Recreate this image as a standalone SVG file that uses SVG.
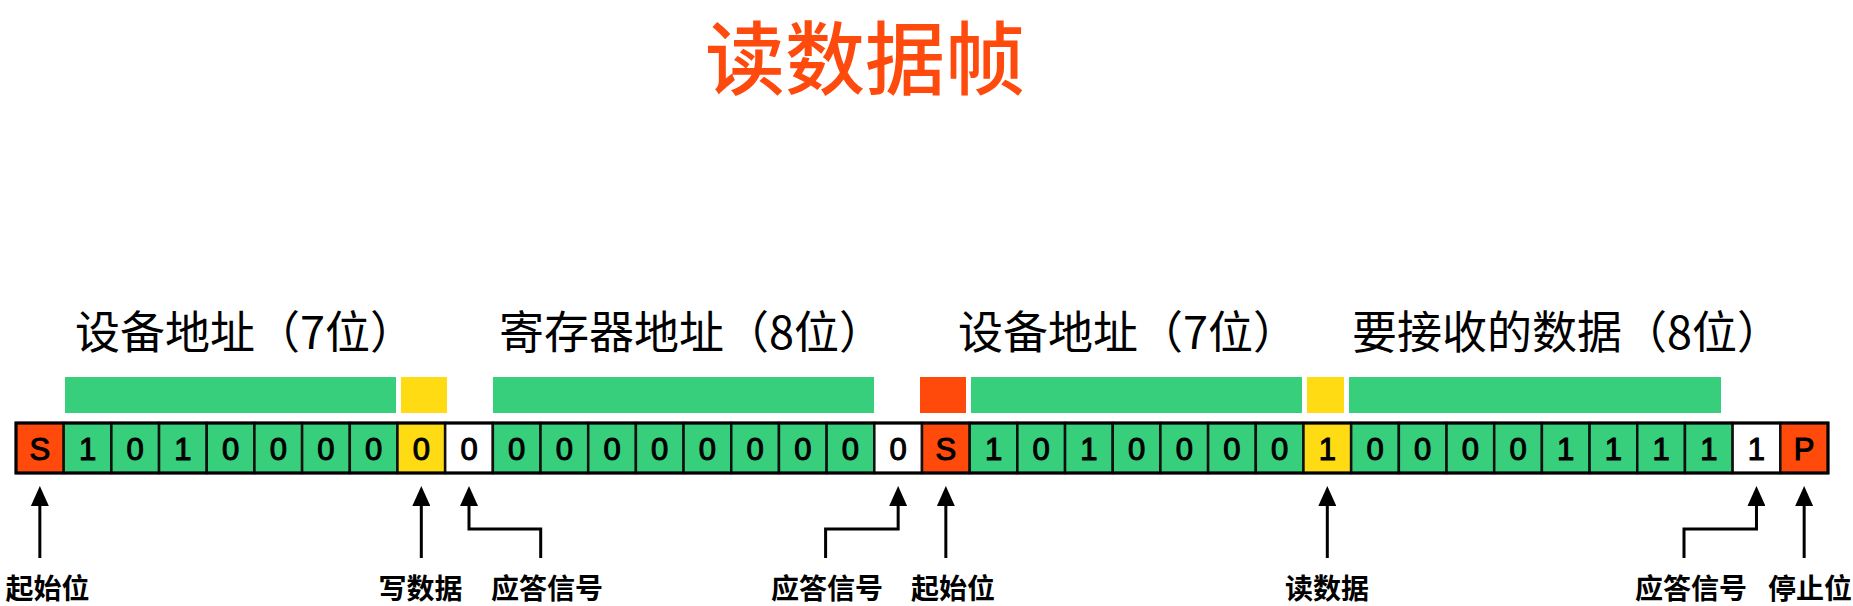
<svg xmlns="http://www.w3.org/2000/svg" width="1853" height="606" viewBox="0 0 1853 606">
<defs>
<marker id="ah" viewBox="0 0 20 18" refX="10" refY="9" markerWidth="20" markerHeight="18" markerUnits="userSpaceOnUse" orient="auto">
<path d="M0,0 L20,9 L0,18 Z" fill="#000"/>
</marker>
<style>
.t{font-family:"Noto Sans CJK SC","Liberation Sans",sans-serif;}
.title{font-size:80px;fill:#ff4a0e;font-weight:500;text-anchor:middle;}
.hd{font-size:45px;fill:#000;}
.lb{font-size:28px;font-weight:bold;fill:#000;text-anchor:middle;}
.c{stroke:#111;stroke-width:2.5;}
.g{fill:#37ce7c;}
.r{fill:#ff4a0b;}
.y{fill:#fedb12;}
.w{fill:#ffffff;}
.d{font-family:"Liberation Sans",Arial,sans-serif;font-size:31px;fill:#000;stroke:#000;stroke-width:1.1;text-anchor:middle;}
.ln{fill:none;stroke:#000;stroke-width:3;}
</style>
</defs>
<rect x="0" y="0" width="1853" height="606" fill="#ffffff"/>
<text class="t title" x="865" y="88">读数据帧</text>
<g id="labels">
<text class="t hd" x="75" y="349">设备地址（7位）</text>
<text class="t hd" x="499" y="349">寄存器地址（8位）</text>
<text class="t hd" x="958" y="349">设备地址（7位）</text>
<text class="t hd" x="1352" y="349">要接收的数据（8位）</text>
</g>
<g id="bars">
<rect class="g" x="65" y="377" width="331" height="36"/>
<rect class="y" x="401" y="377" width="46" height="36"/>
<rect class="g" x="493" y="377" width="381" height="36"/>
<rect class="r" x="920" y="377" width="46" height="36"/>
<rect class="g" x="971" y="377" width="331" height="36"/>
<rect class="y" x="1307" y="377" width="37" height="36"/>
<rect class="g" x="1349" y="377" width="372" height="36"/>
</g>
<g id="cells">
<g id="c0"><rect class="c r" x="16" y="423" width="47.68" height="50"/><text class="d" x="39.84" y="459.5">S</text></g>
<g id="c1"><rect class="c g" x="63.68" y="423" width="47.68" height="50"/><text class="d" x="87.52" y="459.5">1</text></g>
<g id="c2"><rect class="c g" x="111.37" y="423" width="47.68" height="50"/><text class="d" x="135.21" y="459.5">0</text></g>
<g id="c3"><rect class="c g" x="159.05" y="423" width="47.68" height="50"/><text class="d" x="182.89" y="459.5">1</text></g>
<g id="c4"><rect class="c g" x="206.74" y="423" width="47.68" height="50"/><text class="d" x="230.58" y="459.5">0</text></g>
<g id="c5"><rect class="c g" x="254.42" y="423" width="47.68" height="50"/><text class="d" x="278.26" y="459.5">0</text></g>
<g id="c6"><rect class="c g" x="302.11" y="423" width="47.68" height="50"/><text class="d" x="325.95" y="459.5">0</text></g>
<g id="c7"><rect class="c g" x="349.79" y="423" width="47.68" height="50"/><text class="d" x="373.63" y="459.5">0</text></g>
<g id="c8"><rect class="c y" x="397.47" y="423" width="47.68" height="50"/><text class="d" x="421.31" y="459.5">0</text></g>
<g id="c9"><rect class="c w" x="445.16" y="423" width="47.68" height="50"/><text class="d" x="469.00" y="459.5">0</text></g>
<g id="c10"><rect class="c g" x="492.84" y="423" width="47.68" height="50"/><text class="d" x="516.68" y="459.5">0</text></g>
<g id="c11"><rect class="c g" x="540.53" y="423" width="47.68" height="50"/><text class="d" x="564.37" y="459.5">0</text></g>
<g id="c12"><rect class="c g" x="588.21" y="423" width="47.68" height="50"/><text class="d" x="612.05" y="459.5">0</text></g>
<g id="c13"><rect class="c g" x="635.89" y="423" width="47.68" height="50"/><text class="d" x="659.73" y="459.5">0</text></g>
<g id="c14"><rect class="c g" x="683.58" y="423" width="47.68" height="50"/><text class="d" x="707.42" y="459.5">0</text></g>
<g id="c15"><rect class="c g" x="731.26" y="423" width="47.68" height="50"/><text class="d" x="755.10" y="459.5">0</text></g>
<g id="c16"><rect class="c g" x="778.95" y="423" width="47.68" height="50"/><text class="d" x="802.79" y="459.5">0</text></g>
<g id="c17"><rect class="c g" x="826.63" y="423" width="47.68" height="50"/><text class="d" x="850.47" y="459.5">0</text></g>
<g id="c18"><rect class="c w" x="874.32" y="423" width="47.68" height="50"/><text class="d" x="898.16" y="459.5">0</text></g>
<g id="c19"><rect class="c r" x="922.00" y="423" width="47.68" height="50"/><text class="d" x="945.84" y="459.5">S</text></g>
<g id="c20"><rect class="c g" x="969.68" y="423" width="47.68" height="50"/><text class="d" x="993.52" y="459.5">1</text></g>
<g id="c21"><rect class="c g" x="1017.37" y="423" width="47.68" height="50"/><text class="d" x="1041.21" y="459.5">0</text></g>
<g id="c22"><rect class="c g" x="1065.05" y="423" width="47.68" height="50"/><text class="d" x="1088.89" y="459.5">1</text></g>
<g id="c23"><rect class="c g" x="1112.74" y="423" width="47.68" height="50"/><text class="d" x="1136.58" y="459.5">0</text></g>
<g id="c24"><rect class="c g" x="1160.42" y="423" width="47.68" height="50"/><text class="d" x="1184.26" y="459.5">0</text></g>
<g id="c25"><rect class="c g" x="1208.11" y="423" width="47.68" height="50"/><text class="d" x="1231.95" y="459.5">0</text></g>
<g id="c26"><rect class="c g" x="1255.79" y="423" width="47.68" height="50"/><text class="d" x="1279.63" y="459.5">0</text></g>
<g id="c27"><rect class="c y" x="1303.47" y="423" width="47.68" height="50"/><text class="d" x="1327.31" y="459.5">1</text></g>
<g id="c28"><rect class="c g" x="1351.16" y="423" width="47.68" height="50"/><text class="d" x="1375.00" y="459.5">0</text></g>
<g id="c29"><rect class="c g" x="1398.84" y="423" width="47.68" height="50"/><text class="d" x="1422.68" y="459.5">0</text></g>
<g id="c30"><rect class="c g" x="1446.53" y="423" width="47.68" height="50"/><text class="d" x="1470.37" y="459.5">0</text></g>
<g id="c31"><rect class="c g" x="1494.21" y="423" width="47.68" height="50"/><text class="d" x="1518.05" y="459.5">0</text></g>
<g id="c32"><rect class="c g" x="1541.89" y="423" width="47.68" height="50"/><text class="d" x="1565.73" y="459.5">1</text></g>
<g id="c33"><rect class="c g" x="1589.58" y="423" width="47.68" height="50"/><text class="d" x="1613.42" y="459.5">1</text></g>
<g id="c34"><rect class="c g" x="1637.26" y="423" width="47.68" height="50"/><text class="d" x="1661.10" y="459.5">1</text></g>
<g id="c35"><rect class="c g" x="1684.95" y="423" width="47.68" height="50"/><text class="d" x="1708.79" y="459.5">1</text></g>
<g id="c36"><rect class="c w" x="1732.63" y="423" width="47.68" height="50"/><text class="d" x="1756.47" y="459.5">1</text></g>
<g id="c37"><rect class="c r" x="1780.32" y="423" width="47.68" height="50"/><text class="d" x="1804.16" y="459.5">P</text></g>
<rect x="16" y="423" width="1812" height="50" fill="none" stroke="#000" stroke-width="3"/>
</g>
<g id="connectors">
<path class="ln" d="M39.84,558 V496" marker-end="url(#ah)"/>
<path class="ln" d="M421.31,558 V496" marker-end="url(#ah)"/>
<path class="ln" d="M540.7,558 V529 H469 V496" marker-end="url(#ah)"/>
<path class="ln" d="M825.6,558 V529 H898.16 V496" marker-end="url(#ah)"/>
<path class="ln" d="M945.84,558 V496" marker-end="url(#ah)"/>
<path class="ln" d="M1327.31,558 V496" marker-end="url(#ah)"/>
<path class="ln" d="M1684,558 V529 H1756.47 V496" marker-end="url(#ah)"/>
<path class="ln" d="M1804.16,558 V496" marker-end="url(#ah)"/>
</g>
<g id="bottom-labels">
<text class="t lb" x="47.5" y="599">起始位</text>
<text class="t lb" x="420.5" y="599">写数据</text>
<text class="t lb" x="547" y="599">应答信号</text>
<text class="t lb" x="827" y="599">应答信号</text>
<text class="t lb" x="953" y="599">起始位</text>
<text class="t lb" x="1327" y="599">读数据</text>
<text class="t lb" x="1691" y="599">应答信号</text>
<text class="t lb" x="1810" y="599">停止位</text>
</g>
</svg>
